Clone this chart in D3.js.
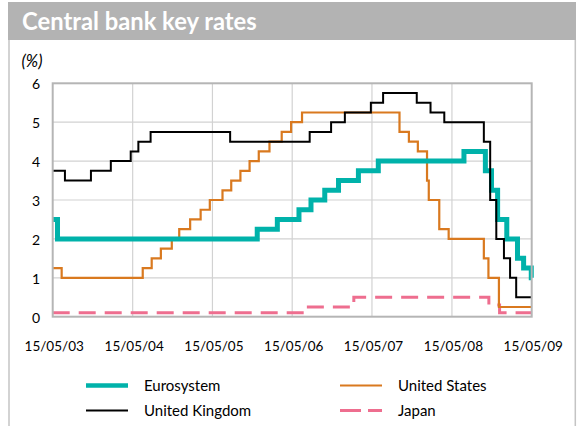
<!DOCTYPE html>
<html><head><meta charset="utf-8">
<script src="https://cdn.jsdelivr.net/npm/d3@7"></script>
<style>
body{margin:0;background:#fff}
svg{display:block}
text{font-family:Lato,"Open Sans","DejaVu Sans",sans-serif;fill:#000}
</style>
</head><body>
<svg id="chart" width="579" height="426"></svg>
<script>
// ---------------- data ----------------
const title = "Central bank key rates";
const unitLabel = "(%)";
const startDate = "2003-05-15";
const endDate = "2009-05-15";
const xTickDates = ["2003-05-15","2004-05-15","2005-05-15","2006-05-15","2007-05-15","2008-05-15","2009-05-15"];
const xTickLabels = ["15/05/03","15/05/04","15/05/05","15/05/06","15/05/07","15/05/08","15/05/09"];
const yTicks = [0,1,2,3,4,5,6];

const seriesNames = ["Eurosystem","United Kingdom","United States","Japan"];

const euroDates = ["2003-05-15","2003-06-06","2005-12-06","2006-03-08","2006-06-15","2006-08-09","2006-10-11","2006-12-13","2007-03-14","2007-06-13","2008-07-09","2008-10-15","2008-11-12","2008-12-10","2009-01-21","2009-03-11","2009-04-08","2009-05-13"];
const euroValues = [2.5,2.0,2.25,2.5,2.75,3.0,3.25,3.5,3.75,4.0,4.25,3.75,3.25,2.5,2.0,1.5,1.25,1.0];

const ukDates = ["2003-05-15","2003-07-10","2003-11-06","2004-02-05","2004-05-06","2004-06-10","2004-08-05","2005-08-04","2006-08-03","2006-11-09","2007-01-11","2007-05-10","2007-07-05","2007-12-06","2008-02-07","2008-04-10","2008-10-08","2008-11-06","2008-12-04","2009-01-08","2009-02-05","2009-03-05"];
const ukValues = [3.75,3.5,3.75,4.0,4.25,4.5,4.75,4.5,4.75,5.0,5.25,5.5,5.75,5.5,5.25,5.0,4.5,3.0,2.0,1.5,1.0,0.5];

const usDates = ["2003-05-15","2003-06-25","2004-06-30","2004-08-10","2004-09-21","2004-11-10","2004-12-14","2005-02-02","2005-03-22","2005-05-03","2005-06-30","2005-08-09","2005-09-20","2005-11-01","2005-12-13","2006-01-31","2006-03-28","2006-05-10","2006-06-29","2007-09-18","2007-10-31","2007-12-11","2008-01-22","2008-01-30","2008-03-18","2008-04-30","2008-10-08","2008-10-29","2008-12-16"];
const usValues = [1.25,1.0,1.25,1.5,1.75,2.0,2.25,2.5,2.75,3.0,3.25,3.5,3.75,4.0,4.25,4.5,4.75,5.0,5.25,4.75,4.5,4.25,3.5,3.0,2.25,2.0,1.5,1.0,0.25];

const jpDates = ["2003-05-15","2006-07-14","2007-02-21","2008-10-31","2008-12-19"];
const jpValues = [0.1,0.25,0.5,0.3,0.1];

// ---------------- drawing ----------------
const parse = d3.timeParse("%Y-%m-%d");
const svg = d3.select("#chart");

const plot = {left:52.7, right:531.7, top:83.3, bottom:316.7};
const x = d3.scaleTime().domain([parse(startDate), parse(endDate)]).range([plot.left, plot.right]);
const y = d3.scaleLinear().domain([0,6]).range([plot.bottom, plot.top]);

// frame
svg.append("rect").attr("x",8).attr("y",2).attr("width",568).attr("height",38).attr("fill","#b3b3b3");
svg.append("line").attr("x1",9).attr("x2",9).attr("y1",40).attr("y2",426).attr("stroke","#c4c4c4").attr("stroke-width",1.5);
svg.append("line").attr("x1",575.3).attr("x2",575.3).attr("y1",40).attr("y2",426).attr("stroke","#c4c4c4").attr("stroke-width",1.5);

function fit(sel, target){
  const w = sel.node().getComputedTextLength();
  const fs = parseFloat(sel.attr("font-size"));
  sel.attr("font-size", fs*target/w);
}

const t = svg.append("text").attr("x",22).attr("y",29.5).attr("font-size",19).attr("font-weight","bold")
  .style("fill","#fff").text(title);
fit(t, 235);

const u = svg.append("text").attr("x",21.5).attr("y",66.5).attr("font-size",16).attr("font-style","italic").text(unitLabel);
fit(u, 21);

// grid
const g = svg.append("g");
g.selectAll("line.h").data(yTicks.slice(1,-1)).join("line")
  .attr("x1",plot.left).attr("x2",plot.right).attr("y1",d=>y(d)).attr("y2",d=>y(d))
  .attr("stroke","#d2d2d2").attr("stroke-width",1.2);
g.selectAll("line.v").data(xTickDates.slice(1,-1)).join("line")
  .attr("x1",d=>x(parse(d))).attr("x2",d=>x(parse(d))).attr("y1",plot.top).attr("y2",plot.bottom)
  .attr("stroke","#d2d2d2").attr("stroke-width",1.2);

// axes labels
const yAxis = d3.axisLeft(y).tickValues(yTicks).tickSize(0).tickPadding(0).tickFormat(d3.format("d"));
const ya = svg.append("g").attr("transform","translate(36,0)").call(yAxis);
ya.select(".domain").remove();
ya.selectAll("text").attr("text-anchor","middle").attr("font-size",14)
  .attr("font-family","Lato,'Open Sans',sans-serif").attr("dy",null).attr("dominant-baseline","central").style("fill","#000");

const xAxis = d3.axisBottom(x).tickValues(xTickDates.map(parse)).tickSize(0).tickPadding(0)
  .tickFormat((d,i)=>xTickLabels[i]);
const xa = svg.append("g").attr("transform","translate(1,0)").call(xAxis);
xa.select(".domain").remove();
xa.selectAll("text").attr("y",351).attr("dy",null).attr("font-size",13.5)
  .attr("font-family","Lato,'Open Sans',sans-serif").style("fill","#000");

// series
function stepData(dates, values){
  const pts = dates.map((d,i)=>[parse(d), values[i]]);
  pts.push([parse(endDate), values[values.length-1]]);
  return pts;
}
const line = d3.line().x(d=>x(d[0])).y(d=>y(d[1])).curve(d3.curveStepAfter);

const series = [
  {name:"Japan", data:stepData(jpDates,jpValues), color:"#ee6e8f", width:3, dash:"17,9"},
  {name:"United States", data:stepData(usDates,usValues), color:"#d9791f", width:2.2},
  {name:"Eurosystem", data:stepData(euroDates,euroValues), color:"#00b2aa", width:5},
  {name:"United Kingdom", data:stepData(ukDates,ukValues), color:"#000000", width:2},
];
svg.append("g").selectAll("path").data(series).join("path")
  .attr("d",d=>line(d.data)).attr("fill","none").attr("stroke",d=>d.color)
  .attr("stroke-width",d=>d.width).attr("stroke-dasharray",d=>d.dash||null)
  .attr("stroke-linejoin","miter");

// plot border
svg.append("rect").attr("x",plot.left).attr("y",plot.top).attr("width",plot.right-plot.left).attr("height",plot.bottom-plot.top)
  .attr("fill","none").attr("stroke","#b5b5b5").attr("stroke-width",2);

// legend
const legendItems = [
  {name:seriesNames[0], color:"#00b2aa", width:4.5, x:86, y:385.5},
  {name:seriesNames[1], color:"#000000", width:2, x:86, y:410.5},
  {name:seriesNames[2], color:"#d9791f", width:2.2, x:340, y:385.5},
  {name:seriesNames[3], color:"#ee6e8f", width:3, x:340, y:410.5, dash:"21,7"},
];
const lg = svg.append("g").selectAll("g").data(legendItems).join("g");
lg.append("line").attr("x1",d=>d.x).attr("x2",d=>d.x+42).attr("y1",d=>d.y).attr("y2",d=>d.y)
  .attr("stroke",d=>d.color).attr("stroke-width",d=>d.width).attr("stroke-dasharray",d=>d.dash||null);
lg.append("text").attr("x",d=>d.x+58).attr("y",d=>d.y+5.5).attr("font-size",15).text(d=>d.name);
</script>
</body></html>
